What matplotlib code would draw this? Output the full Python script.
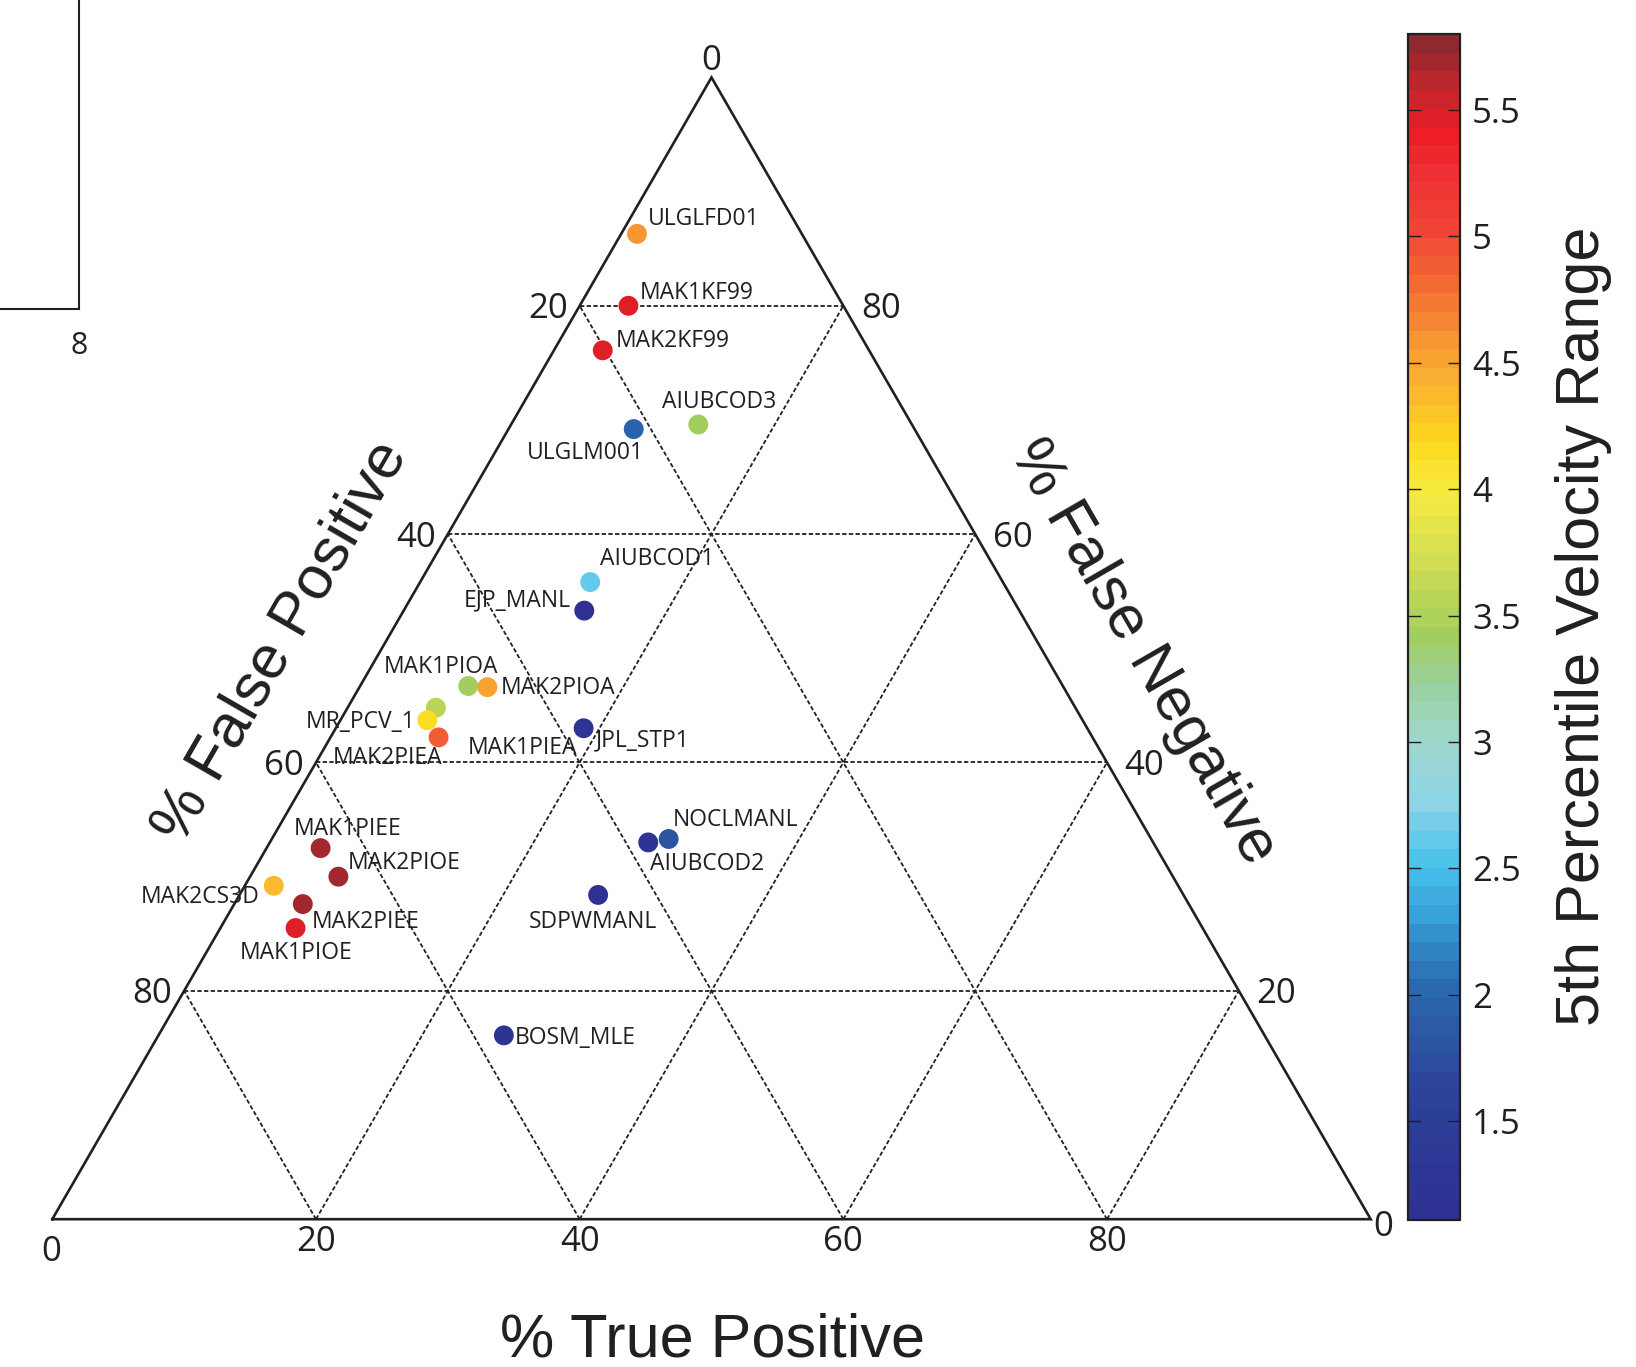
import numpy as np
import matplotlib
matplotlib.use("Agg")
import matplotlib.pyplot as plt
from matplotlib.colors import LinearSegmentedColormap, ListedColormap, Normalize
from matplotlib.lines import Line2D
from matplotlib.ticker import FormatStrFormatter

# ---------------- data ----------------
names = ["ULGLFD01", "MAK1KF99", "MAK2KF99", "AIUBCOD3", "ULGLM001",
         "AIUBCOD1", "EJP_MANL", "MAK1PIOA", "MAK2PIOA", "MAK1PIEA",
         "MR_PCV_1", "MAK2PIEA", "JPL_STP1", "MAK1PIEE", "MAK2PIOE",
         "MAK2CS3D", "MAK2PIEE", "MAK1PIOE", "AIUBCOD2", "NOCLMANL",
         "SDPWMANL", "BOSM_MLE"]
true_pos = [1.2, 3.7, 3.7, 14.2, 9.5, 12.9, 13.7, 8.2, 9.7, 6.7,
            6.6, 8.2, 18.8, 4.1, 6.7, 2.2, 5.2, 5.7, 28.7, 30.1,
            27.2, 26.2]
false_neg = [86.3, 80.0, 76.1, 69.6, 69.2, 55.8, 53.3, 46.7, 46.6, 44.8,
             43.7, 42.2, 43.0, 32.5, 30.0, 29.2, 27.6, 25.5, 33.0, 33.3,
             28.4, 16.1]
false_pos = [100 - t - f for t, f in zip(true_pos, false_neg)]
velocity = [4.58, 5.45, 5.45, 3.45, 1.95, 2.6, 1.15, 3.45, 4.5, 3.55,
            4.15, 4.9, 1.2, 5.7, 5.7, 4.35, 5.72, 5.45, 1.2, 1.8,
            1.15, 1.2]
vmin, vmax = 1.11, 5.80
cbar_ticks = [1.5, 2, 2.5, 3, 3.5, 4, 4.5, 5, 5.5]
grid_vals = [20, 40, 60, 80]

# label offsets in pixels (dx, dy from marker to text anchor), alignment
label_layout = [(11, -17.4, "left"), (11, -15.3, "left"), (12.7, -11.6, "left"),
                (-36.6, -24.7, "left"), (-106.6, 21.4, "left"), (9.3, -25, "left"),
                (-14, -12.4, "right"), (-84.4, -20.7, "left"), (13, -1, "left"),
                (31.4, 38, "left"), (-11.6, -0.7, "right"), (-105.7, 18.7, "left"),
                (12, 10.3, "left"), (-26.7, -21.7, "left"), (9, -15.6, "left"),
                (-14, 8.7, "right"), (8.7, 16, "left"), (-55.7, 22.7, "left"),
                (2, 19, "left"), (3.7, -21, "left"), (-69.4, 24.7, "left"),
                (11, 0, "left")]

# ---------------- style ----------------
INK = "#231F20"
anchors = [(1.11, "#2E3192"), (1.6, "#2C4399"), (2.0, "#2A6AB0"), (2.3, "#38A1DA"),
           (2.5, "#48C2EC"), (2.75, "#8DD4E6"), (3.0, "#A0D7CC"), (3.2, "#9AD1A2"),
           (3.42, "#A2CE5C"), (3.75, "#D4DE54"), (4.0, "#F8EC40"), (4.2, "#FED81E"),
           (4.45, "#FAAF32"), (4.65, "#F68F33"), (4.85, "#F26A33"), (5.05, "#EF4536"),
           (5.3, "#EE2E33"), (5.45, "#ED1C24"), (5.62, "#C2262D"), (5.80, "#8E2A2F")]
base = LinearSegmentedColormap.from_list(
    "velo", [((v - vmin) / (vmax - vmin), c) for v, c in anchors])
cmap = ListedColormap(base(np.linspace(0, 1, 64)))

W, Hpx = 1636, 1367
fig = plt.figure(figsize=(W / 100, Hpx / 100), dpi=100)
SQ = np.sqrt(3) / 2

# triangle axes: x in [0,1], y in [0, sqrt(3)/2]
x0, y0b = 52.3, 1219.2
tw = 1318.4
th = tw * SQ
ax = fig.add_axes([x0 / W, (Hpx - y0b) / Hpx, tw / W, th / Hpx])
ax.set_xlim(0, 1)
ax.set_ylim(0, SQ)
ax.axis("off")

def tern(tp, fn):
    h = np.asarray(fn) / 100.0
    return np.asarray(tp) / 100.0 + 0.5 * h, h * SQ

PT = 0.72  # points per pixel

# grid
GLS = dict(color=INK, lw=1.3, ls=(0, (2.4, 1.3)), zorder=1)
for v in grid_vals:
    k = v / 100.0
    ax.plot([k / 2, 1 - k / 2], [k * SQ, k * SQ], **GLS)
    ax.plot([k, k + 0.5 * (1 - k)], [0, (1 - k) * SQ], **GLS)
    ax.plot([1 - k, 0.5 * (1 - k)], [0, (1 - k) * SQ], **GLS)

# outline
ax.plot([0, 1, 0.5, 0], [0, 0, SQ, 0], color=INK, lw=1.9, zorder=2,
        solid_joinstyle="miter", clip_on=False)

# points
px, py = tern(true_pos, false_neg)
norm = Normalize(vmin, vmax)
sc = ax.scatter(px, py, c=velocity, cmap=cmap, norm=norm, s=205,
                edgecolors="none", zorder=4, clip_on=False)

LBL_FONT = "Open Sans"
for i, name in enumerate(names):
    dx, dy, ha = label_layout[i]
    ax.annotate(name, (px[i], py[i]), xytext=(dx * PT, -(dy + 8.2) * PT),
                textcoords="offset points", ha=ha, va="baseline",
                fontsize=16.5, family=LBL_FONT, color=INK, zorder=5)

# tick labels
TFS = 25
half_digit = 12.4
for v in grid_vals:
    k = v / 100.0
    ax.annotate(str(v), (k, 0), xytext=(0, -(19 + half_digit) * PT),
                textcoords="offset points", ha="center", va="baseline",
                fontsize=TFS, family=LBL_FONT, color=INK)
    ax.annotate(str(v), (0.5 * (1 - k), (1 - k) * SQ),
                xytext=(-12 * PT, -half_digit * PT), textcoords="offset points",
                ha="right", va="baseline", fontsize=TFS, family=LBL_FONT, color=INK)
    ax.annotate(str(v), (1 - k / 2, k * SQ),
                xytext=(17.5 * PT, -half_digit * PT), textcoords="offset points",
                ha="left", va="baseline", fontsize=TFS, family=LBL_FONT, color=INK)
ax.annotate("0", (0, 0), xytext=(-1.6 * PT, -(29 + half_digit) * PT),
            textcoords="offset points", ha="center", va="baseline",
            fontsize=TFS, family=LBL_FONT, color=INK)
ax.annotate("0", (0.5, SQ), xytext=(0, (20 - half_digit) * PT),
            textcoords="offset points", ha="center", va="baseline",
            fontsize=TFS, family=LBL_FONT, color=INK)
ax.annotate("0", (1, 0), xytext=(2.6 * PT, -(4.1 + half_digit) * PT),
            textcoords="offset points", ha="left", va="baseline",
            fontsize=TFS, family=LBL_FONT, color=INK)

# axis titles
TITLE_FONT = "Liberation Sans"
fig.text(713 / W, 1 - 1356.4 / Hpx, "% True Positive", ha="center",
         va="baseline", fontsize=44, family=TITLE_FONT, color=INK)
fig.text(281.7 / W, 1 - 641.7 / Hpx, "% False Positive", ha="center",
         va="center", rotation=60, rotation_mode="anchor", fontsize=44,
         family=TITLE_FONT, color=INK)
fig.text(1142.5 / W, 1 - 652 / Hpx, "% False Negative", ha="center",
         va="center", rotation=-60, rotation_mode="anchor", fontsize=44,
         family=TITLE_FONT, color=INK)

# colorbar
cax = fig.add_axes([1408.3 / W, (Hpx - 1220) / Hpx, 51.4 / W, 1186 / Hpx])
cb = fig.colorbar(sc, cax=cax, ticks=cbar_ticks)
cb.outline.set_edgecolor(INK)
cb.outline.set_linewidth(1.6)
cax.yaxis.set_major_formatter(FormatStrFormatter("%g"))
cax.tick_params(axis="y", direction="in", length=9, width=1.0, color=INK,
                left=True, right=True, labelleft=False, labelright=True,
                pad=9, labelsize=TFS, labelcolor=INK)
for t in cax.get_yticklabels():
    t.set_family(LBL_FONT)
fig.text(1583 / W, 1 - 626 / Hpx, "5th Percentile Velocity Range",
         ha="center", va="center", rotation=90, fontsize=44,
         family=TITLE_FONT, color=INK)

# remnant of neighbouring panel (top-left)
fig.add_artist(Line2D([0, 79 / W], [1 - 309 / Hpx] * 2, color=INK, lw=1.5,
                      transform=fig.transFigure))
fig.add_artist(Line2D([79 / W] * 2, [1, 1 - 309 / Hpx], color=INK, lw=1.5,
                      transform=fig.transFigure))
fig.text(79.3 / W, 1 - (343.3 + 10.8) / Hpx, "8", ha="center", va="baseline",
         fontsize=22, family=LBL_FONT, color=INK)

fig.savefig("out.png", dpi=100)
